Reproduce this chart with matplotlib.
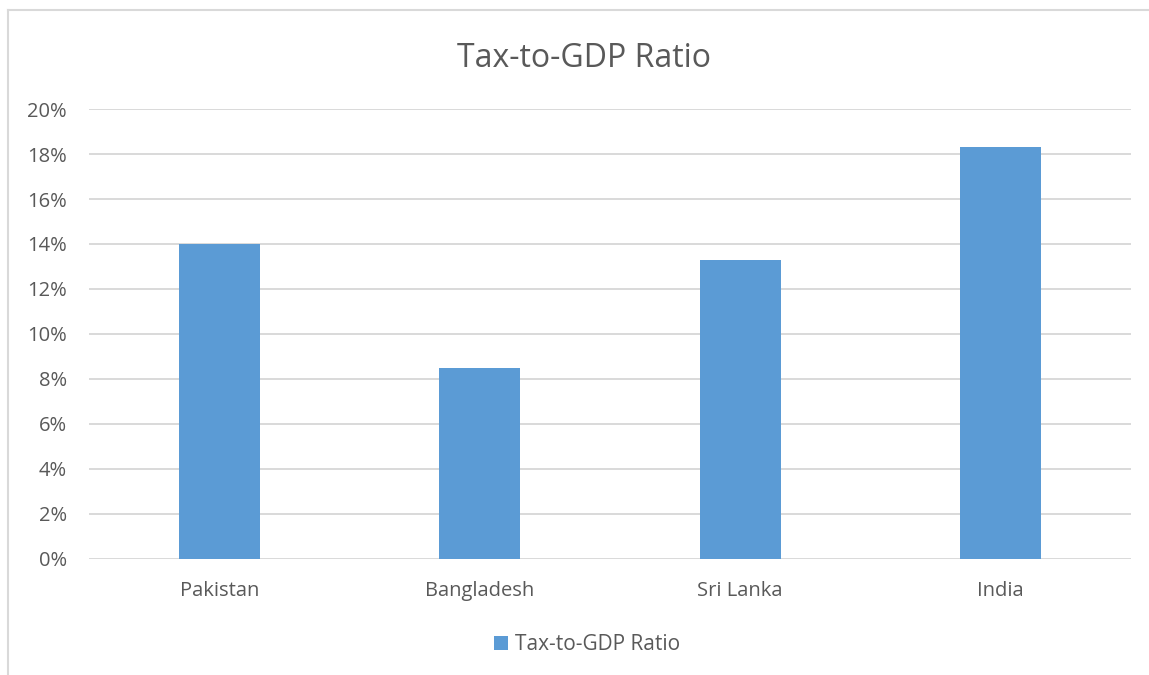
import matplotlib.pyplot as plt
from matplotlib.lines import Line2D
from matplotlib.ticker import FuncFormatter

countries = ['Pakistan', 'Bangladesh', 'Sri Lanka', 'India']
tax_to_gdp = [14.0, 8.5, 13.3, 18.3]
series_name = 'Tax-to-GDP Ratio'
bar_color = '#5B9BD5'
text_color = '#595959'
grid_color = '#D9D9D9'

plt.rcParams['font.family'] = ['Open Sans', 'DejaVu Sans']

fig = plt.figure(figsize=(11.49, 6.75), dpi=100)
ax = fig.add_axes([0.0775, 0.1719, 0.9068, 0.6666])

x = range(len(countries))
ax.bar(x, tax_to_gdp, width=0.31, color=bar_color, label=series_name, zorder=3)

ax.set_xlim(-0.5, len(countries) - 0.5)
ax.set_ylim(0, 20)
ax.set_yticks(range(0, 21, 2))
ax.yaxis.set_major_formatter(FuncFormatter(lambda v, p: f'{v:.0f}%'))
ax.set_xticks(list(x))
ax.set_xticklabels(countries)
ax.grid(axis='y', color=grid_color, linewidth=1.4, zorder=0)
for s in ax.spines.values():
    s.set_visible(False)
ax.tick_params(length=0, labelsize=14.5, colors=text_color)
ax.tick_params(axis='x', pad=16)
ax.tick_params(axis='y', pad=16)

fig.text(0.5083, 0.914, series_name, ha='center', va='center', fontsize=23, color=text_color)

# chart area border (left and top edges visible)
fig.add_artist(Line2D([8 / 1149, 8 / 1149], [0, 1 - 10 / 675], transform=fig.transFigure,
                      color=grid_color, linewidth=1.5))
fig.add_artist(Line2D([8 / 1149, 1], [1 - 10 / 675, 1 - 10 / 675], transform=fig.transFigure,
                      color=grid_color, linewidth=1.5))

leg = fig.legend(loc='center', bbox_to_anchor=(0.5112, 0.045), frameon=False, fontsize=15,
                 handlelength=0.65, handleheight=0.65, handletextpad=0.35)
for t in leg.get_texts():
    t.set_color(text_color)

fig.savefig('out.png', dpi=100)
